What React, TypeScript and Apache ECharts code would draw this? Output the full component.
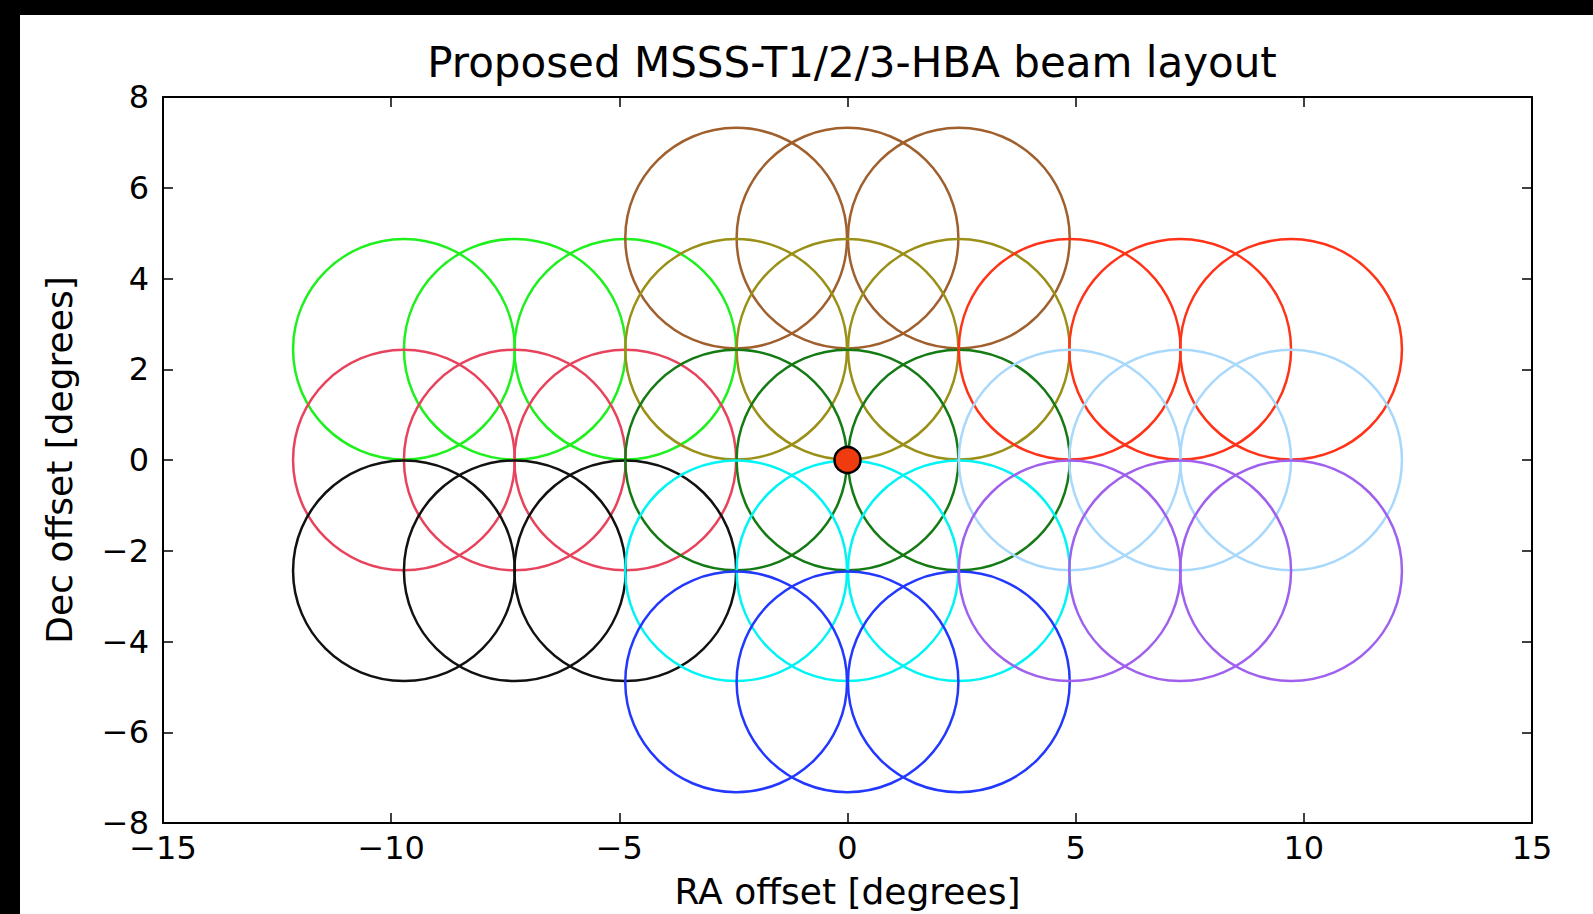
import React, { useEffect, useRef } from "react";
import * as echarts from "echarts";

// Beam centres [RA offset, Dec offset] in degrees, per colour group
const limeBeams = [[-9.72, 2.44], [-7.29, 2.44], [-4.87, 2.44]];
const pinkBeams = [[-9.72, 0], [-7.29, 0], [-4.87, 0]];
const blackBeams = [[-9.72, -2.44], [-7.29, -2.44], [-4.87, -2.44]];
const brownBeams = [[-2.44, 4.89], [0, 4.89], [2.44, 4.89]];
const oliveBeams = [[-2.44, 2.44], [0, 2.44], [2.44, 2.44]];
const darkGreenBeams = [[-2.44, 0], [0, 0], [2.44, 0]];
const cyanBeams = [[-2.44, -2.44], [0, -2.44], [2.44, -2.44]];
const blueBeams = [[-2.44, -4.89], [0, -4.89], [2.44, -4.89]];
const redBeams = [[4.87, 2.44], [7.29, 2.44], [9.72, 2.44]];
const lightBlueBeams = [[4.87, 0], [7.29, 0], [9.72, 0]];
const purpleBeams = [[4.87, -2.44], [7.29, -2.44], [9.72, -2.44]];
const beamRadius = 2.43;
const pointing = [[0, 0]];

const xTicks = [-15, -10, -5, 0, 5, 10, 15];
const yTicks = [-8, -6, -4, -2, 0, 2, 4, 6, 8];

const groups: { name: string; color: string; data: number[][] }[] = [
  { name: "lime", color: "#1ef01e", data: limeBeams },
  { name: "pink", color: "#e8435c", data: pinkBeams },
  { name: "black", color: "#111111", data: blackBeams },
  { name: "brown", color: "#a0602e", data: brownBeams },
  { name: "olive", color: "#9a9018", data: oliveBeams },
  { name: "darkgreen", color: "#147a14", data: darkGreenBeams },
  { name: "cyan", color: "#00f4f4", data: cyanBeams },
  { name: "blue", color: "#2238ff", data: blueBeams },
  { name: "red", color: "#ff3318", data: redBeams },
  { name: "lightblue", color: "#a8d8fc", data: lightBlueBeams },
  { name: "purple", color: "#a060ee", data: purpleBeams },
];

const FONT = "DejaVu Sans";
const fmt = (v: number) => String(v).replace("-", "\u2212");

export default function App() {
  const ref = useRef<HTMLDivElement>(null);
  useEffect(() => {
    if (!ref.current) return;
    const chart = echarts.init(ref.current, null, { renderer: "svg" });
    const axisCommon = {
      type: "value" as const,
      axisLine: { show: true, onZero: false, lineStyle: { color: "#000", width: 2 } },
      axisTick: { show: true, inside: true, length: 10, lineStyle: { color: "#000", width: 1.5 } },
      splitLine: { show: false },
    };
    const circleSeries = groups.map((g) => ({
      type: "custom" as const,
      name: g.name,
      xAxisIndex: 0,
      yAxisIndex: 0,
      clip: false,
      data: g.data.map((d) => [d[0], d[1], beamRadius]),
      renderItem: (params: any, api: any) => {
        const c = api.coord([api.value(0), api.value(1)]);
        const s = api.size([api.value(2), api.value(2)]);
        return {
          type: "ellipse",
          shape: { cx: c[0], cy: c[1], rx: s[0], ry: s[1] },
          style: { fill: "none", stroke: g.color, lineWidth: 2.5 },
        };
      },
    }));
    chart.setOption({
      animation: false,
      backgroundColor: "#ffffff",
      title: {
        text: "Proposed MSSS-T1/2/3-HBA beam layout",
        left: 847,
        top: 36,
        textAlign: "center",
        textStyle: { fontFamily: FONT, fontSize: 42, fontWeight: "normal", color: "#000" },
      },
      graphic: [
        { type: "rect", left: 0, top: 0, shape: { width: 20, height: 914 }, style: { fill: "#000" }, z: 100 },
        { type: "rect", left: 0, top: 0, shape: { width: 1593, height: 15 }, style: { fill: "#000" }, z: 100 },
      ],
      grid: { left: 163, top: 97, right: 61, bottom: 91, containLabel: false },
      xAxis: [
        {
          ...axisCommon,
          position: "bottom",
          min: xTicks[0],
          max: xTicks[xTicks.length - 1],
          interval: 5,
          axisLabel: { fontFamily: FONT, fontSize: 32, color: "#000", margin: 9, formatter: fmt },
          name: "RA offset [degrees]",
          nameLocation: "middle",
          nameGap: 50,
          nameTextStyle: { fontFamily: FONT, fontSize: 36, color: "#000" },
        },
        {
          ...axisCommon,
          position: "top",
          min: xTicks[0],
          max: xTicks[xTicks.length - 1],
          interval: 5,
          axisLabel: { show: false },
        },
      ],
      yAxis: [
        {
          ...axisCommon,
          position: "left",
          min: yTicks[0],
          max: yTicks[yTicks.length - 1],
          interval: 2,
          axisLabel: { fontFamily: FONT, fontSize: 32, color: "#000", margin: 14, formatter: fmt },
          name: "Dec offset [degrees]",
          nameLocation: "middle",
          nameGap: 86,
          nameTextStyle: { fontFamily: FONT, fontSize: 36, color: "#000" },
        },
        {
          ...axisCommon,
          position: "right",
          min: yTicks[0],
          max: yTicks[yTicks.length - 1],
          interval: 2,
          axisLabel: { show: false },
        },
      ],
      series: [
        ...circleSeries,
        {
          type: "scatter",
          data: pointing,
          symbol: "circle",
          symbolSize: 26,
          z: 10,
          itemStyle: { color: "#f03a10", borderColor: "#000", borderWidth: 2.5, opacity: 1 },
        },
      ],
    });
    return () => chart.dispose();
  }, []);
  return (
    <div
      ref={ref}
      style={{ position: "fixed", left: 0, top: 0, width: 1593, height: 914 }}
    />
  );
}
